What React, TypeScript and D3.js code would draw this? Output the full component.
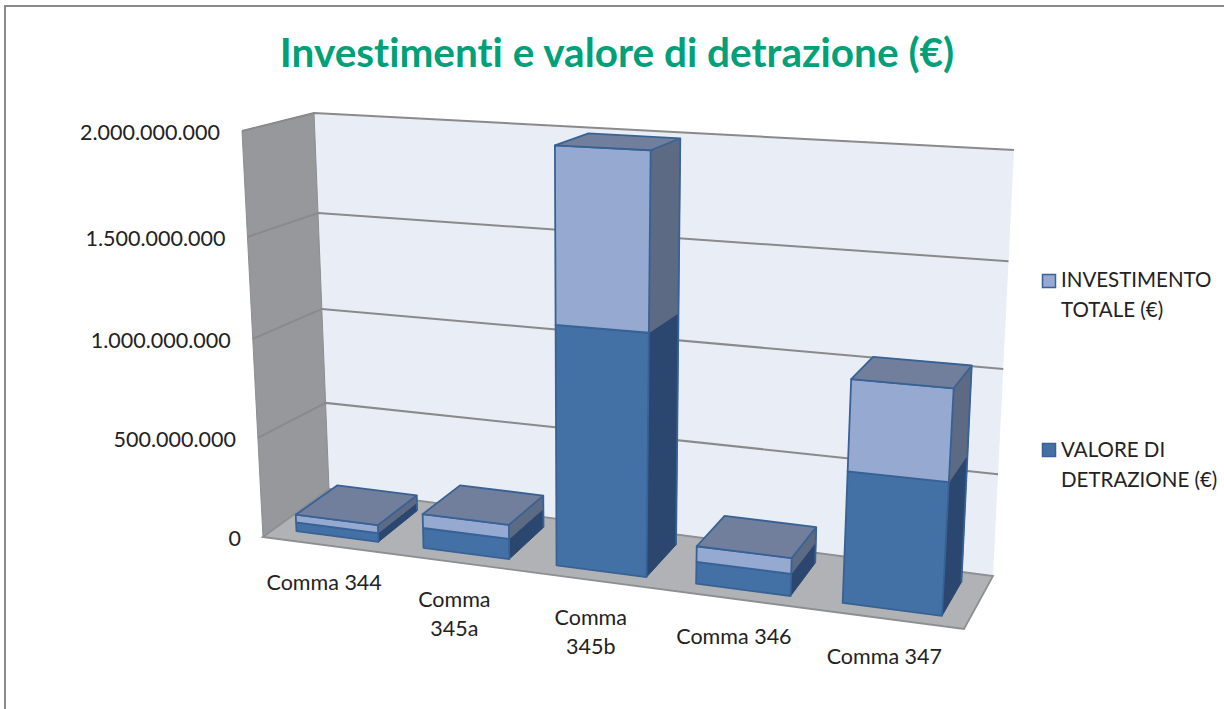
import React from "react";
import * as d3 from "d3";

const categories = ["Comma 344", "Comma 345a", "Comma 345b", "Comma 346", "Comma 347"];
const categoryLines = [["Comma 344"], ["Comma", "345a"], ["Comma", "345b"], ["Comma 346"], ["Comma 347"]];
const valoreDetrazione = [45e6, 100e6, 1165e6, 105e6, 615e6];
const investimentoTotale = [40e6, 70e6, 825e6, 75e6, 420e6];
const yTicks = [0, 5e8, 1e9, 1.5e9, 2e9];
const yTickLabels = ["0", "500.000.000", "1.000.000.000", "1.500.000.000", "2.000.000.000"];
const heightSharesLeft = [0, 0.229, 0.479, 0.734, 1];
const heightSharesRight = [0, 0.239, 0.486, 0.739, 1];
const heightSharesFrontLeft = [0, 0.244, 0.488, 0.739, 1];
const legendInvestimento = ["INVESTIMENTO", "TOTALE (€)"];
const legendValore = ["VALORE DI", "DETRAZIONE (€)"];
const title = "Investimenti e valore di detrazione (€)";

type P = [number, number];
// box corners: front-left, front-right, back-right, back-left
const floorQuad: P[] = [[263, 537], [964, 629], [993, 576], [329, 489]];
const ceilQuad: P[] = [[242, 131], [990, 169], [1014, 150], [314, 113]];
const KX = 0.128;
const BAR_D0 = 0.18;
const BAR_D1 = 0.82;

const shareLeft = d3.scaleLinear().domain(yTicks).range(heightSharesLeft);
const shareRight = d3.scaleLinear().domain(yTicks).range(heightSharesRight);
const shareFrontLeft = d3.scaleLinear().domain(yTicks).range(heightSharesFrontLeft);
const band = d3.scaleBand<string>().domain(categories).range([0, 1]).paddingInner(0.35).paddingOuter(0.175);
const warp = (u: number) => u / (1 + KX * (1 - u));

function project(x: number, d: number, v: number): P {
  const f = shareLeft(v) + (shareRight(v) - shareLeft(v)) * x
    + (shareFrontLeft(v) - shareLeft(v)) * (1 - d) * (1 - x);
  const q = floorQuad.map((p, i) => [
    p[0] + (ceilQuad[i][0] - p[0]) * f,
    p[1] + (ceilQuad[i][1] - p[1]) * f,
  ]);
  const mix = (k: number) =>
    (q[0][k] * (1 - x) + q[1][k] * x) * (1 - d) + (q[3][k] * (1 - x) + q[2][k] * x) * d;
  return [mix(0), mix(1)];
}

const line = d3.line<P>().x((p) => p[0]).y((p) => p[1]).curve(d3.curveLinearClosed);
const open = d3.line<P>().x((p) => p[0]).y((p) => p[1]);

const FONT = "Lato, Carlito, sans-serif";
const EDGE = "#386295";
const COL = {
  dark: "#4371A6", light: "#95A9D1", top: "#717F9D",
  sideDark: "#2B4770", sideLight: "#5C6A83",
};
const noLig = { fontVariantLigatures: "none" } as React.CSSProperties;

function Segment({ x0, x1, v0, v1, front, side, showTop }: any) {
  const f: P[] = [project(x0, BAR_D0, v0), project(x1, BAR_D0, v0), project(x1, BAR_D0, v1), project(x0, BAR_D0, v1)];
  const s: P[] = [project(x1, BAR_D0, v0), project(x1, BAR_D1, v0), project(x1, BAR_D1, v1), project(x1, BAR_D0, v1)];
  const t: P[] = [project(x0, BAR_D0, v1), project(x1, BAR_D0, v1), project(x1, BAR_D1, v1), project(x0, BAR_D1, v1)];
  return (
    <g strokeLinejoin="round">
      <path d={line(s)!} fill={side} stroke={side} strokeWidth={1} />
      <path d={open([s[1], s[2]])!} stroke={EDGE} strokeWidth={1.8} fill="none" />
      <path d={line(f)!} fill={front} stroke={EDGE} strokeWidth={1.8} />
      {showTop && <path d={line(t)!} fill={COL.top} stroke={EDGE} strokeWidth={1.8} />}
    </g>
  );
}

export default function App() {
  const barBands = categories.map((c) => {
    const u0 = band(c)!;
    return { c, x0: warp(u0), x1: warp(u0 + band.bandwidth()) };
  });
  return (
    <svg width={1224} height={709} viewBox="0 0 1224 709"
      style={{ position: "absolute", left: 0, top: 0, display: "block", background: "#fff" }}>
      <path d="M5 709V6H1224" fill="none" stroke="#8A8A8A" strokeWidth={2} />
      <text x={617} y={67} textAnchor="middle" fontFamily={FONT} fontWeight={700} fontSize={40.5} fill="#00A078" style={noLig}>{title}</text>

      <path d={line([project(0, 1, 0), project(1, 1, 0), project(1, 1, 2e9), project(0, 1, 2e9)])!} fill="#E8EDF6" />
      <path d={line([project(0, 0, 0), project(0, 1, 0), project(0, 1, 2e9), project(0, 0, 2e9)])!} fill="#97989B" stroke="#8C8D90" strokeWidth={1} />
      <path d={line([project(0, 0, 0), project(1, 0, 0), project(1, 1, 0), project(0, 1, 0)])!} fill="#B0B2B5" stroke="#8E8F92" strokeWidth={1.8} />
      {yTicks.slice(1).map((v) => (
        <path key={v} d={open([project(0, 0, v), project(0, 1, v), project(1, 1, v)])!} fill="none" stroke="#8A8A8A" strokeWidth={2} />
      ))}

      {barBands.map((b, i) => {
        const v1 = valoreDetrazione[i];
        const v2 = v1 + investimentoTotale[i];
        return (
          <g key={b.c}>
            <Segment x0={b.x0} x1={b.x1} v0={0} v1={v1} front={COL.dark} side={COL.sideDark} />
            <Segment x0={b.x0} x1={b.x1} v0={v1} v1={v2} front={COL.light} side={COL.sideLight} showTop />
          </g>
        );
      })}

      {yTicks.map((v, i) => {
        const p = project(0, 0, v);
        return (
          <text key={v} x={p[0] - 22} y={p[1] + 9} textAnchor="end" fontFamily={FONT} fontSize={21.5} fill="#222">{yTickLabels[i]}</text>
        );
      })}

      {barBands.map((b, i) => {
        const p = project((b.x0 + b.x1) / 2, 0, 0);
        return (
          <text key={b.c} textAnchor="middle" fontFamily={FONT} fontSize={21.5} fill="#222">
            {categoryLines[i].map((l, j) => (
              <tspan key={l} x={p[0] - 2} y={p[1] + 45 + j * 29}>{l}</tspan>
            ))}
          </text>
        );
      })}

      <rect x={1042.5} y={274.5} width={13} height={13} fill={COL.light} stroke={EDGE} strokeWidth={1.5} />
      <rect x={1042.5} y={443.5} width={13} height={13} fill={COL.dark} stroke={EDGE} strokeWidth={1.5} />
      {legendInvestimento.map((l, j) => (
        <text key={l} x={1061} y={287 + j * 30} fontFamily={FONT} fontSize={20.5} fill="#222">{l}</text>
      ))}
      {legendValore.map((l, j) => (
        <text key={l} x={1061} y={457 + j * 30} fontFamily={FONT} fontSize={20.5} fill="#222">{l}</text>
      ))}
    </svg>
  );
}
